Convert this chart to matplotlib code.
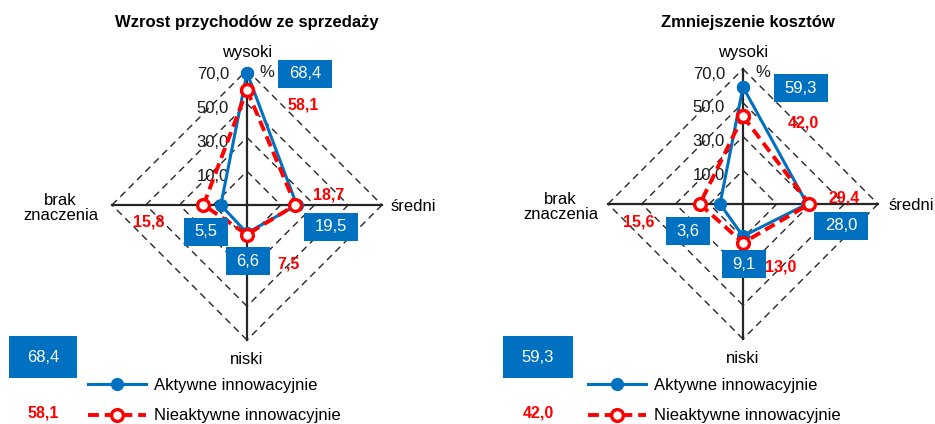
import numpy as np
import matplotlib
matplotlib.use('Agg')
import matplotlib.pyplot as plt
from matplotlib.path import Path

plt.rcParams['font.family'] = ['Liberation Sans', 'DejaVu Sans']
plt.rcParams['font.size'] = 12

categories = ['wysoki', 'średni', 'niski', 'brak\nznaczenia']
series_names = ['Aktywne innowacyjnie', 'Nieaktywne innowacyjnie']
titles = ['Wzrost przychodów ze sprzedaży', 'Zmniejszenie kosztów']

# shares in %, same order as categories
revenue_active = [68.4, 19.5, 6.6, 5.5]
revenue_inactive = [58.1, 18.7, 7.5, 15.8]
costs_active = [59.3, 28.0, 9.1, 3.6]
costs_inactive = [42.0, 29.4, 13.0, 15.6]

r_ticks = [10, 30, 50, 70]
r_min, r_max = -10, 70

BLUE = '#0070C0'
RED = '#FF0000'
GRID = '#262626'
W, H = 935, 424


def fmt(v):
    return f'{v:.1f}'.replace('.', ',')


def label_box(padx, height):
    ''' Rectangle boxstyle with fixed height, sizes in font-size units '''
    def style(x0, y0, width, h, mutation_size):
        px = padx * mutation_size
        hh = height * mutation_size / 2
        cy = y0 + h / 2
        return Path([(x0 - px, cy - hh), (x0 + width + px, cy - hh),
                     (x0 + width + px, cy + hh), (x0 - px, cy + hh),
                     (x0 - px, cy - hh)], closed=True)
    return style


# label offsets in pixels (x right, y up) from each data point
panels = [
    dict(center=(247, 205), title_x=247,
         active=revenue_active, inactive=revenue_inactive,
         active_off=[(58, -1), (34, -22), (1, -28), (-15, -27)],
         inactive_off=[(56, -15), (33, 10), (42, -29), (-55, -17)],
         side_off=(9, -14), legend_x=88, key_x=43),
    dict(center=(743, 204), title_x=748,
         active=costs_active, inactive=costs_inactive,
         active_off=[(58, -1), (34, -22), (1, -28), (-32, -27)],
         inactive_off=[(60, -7), (35, 6), (38, -24), (-61, -18)],
         side_off=(11, -10), legend_x=588, key_x=538),
]

fig = plt.figure(figsize=(W / 100, H / 100), dpi=100)
angles = np.array([0, np.pi / 2, np.pi, 3 * np.pi / 2])
radius = 135

for i, p in enumerate(panels):
    cx, cy = p['center']
    rect = [(cx - radius) / W, (H - cy - radius) / H, 2 * radius / W, 2 * radius / H]
    ax = fig.add_axes(rect, projection='polar')
    ax.set_theta_zero_location('N')
    ax.set_theta_direction(-1)
    ax.set_ylim(r_min, r_max)
    ax.grid(False)
    ax.set_xticks([])
    ax.set_yticks([])
    ax.spines['polar'].set_visible(False)
    ax.patch.set_alpha(0)

    # dashed diamond grid, one edge at a time so dashes start at each corner
    for v in r_ticks:
        for k in range(4):
            a0, a1 = angles[k], angles[(k + 1) % 4]
            ax.plot([a0, a1], [v, v], color=GRID, lw=1.0,
                    ls=(0, (5, 3.5)), zorder=1, clip_on=False)
    for a in angles:
        ax.plot([a, a], [r_min, r_max], color='#262626', lw=1.6, zorder=2, clip_on=False)

    th = np.append(angles, angles[0])
    act = np.append(p['active'], p['active'][0])
    ina = np.append(p['inactive'], p['inactive'][0])
    l1, = ax.plot(th, act, color=BLUE, lw=2.2, marker='o', ms=8.5,
                  mfc=BLUE, mec=BLUE, zorder=4, clip_on=False)
    l2, = ax.plot(th, ina, color=RED, lw=2.8, dashes=(2.8, 1.5), marker='o',
                  ms=8.5, mfc='white', mec=RED, mew=2.4, zorder=5, clip_on=False)

    # radial scale labels along the top spoke
    for v in r_ticks:
        ax.annotate(fmt(v), (0, v), xytext=(-18, -5), textcoords='offset pixels',
                    ha='right', va='center', fontsize=12, color='#1a1a1a')
    ax.annotate('%', (0, r_max), xytext=(20, -3), textcoords='offset pixels',
                ha='center', va='center', fontsize=12, color='#1a1a1a')

    # category names at the spoke ends
    sx, bx = p['side_off']
    ax.annotate(categories[0], (angles[0], r_max), xytext=(0, 17),
                textcoords='offset pixels', ha='center', va='center')
    ax.annotate(categories[1], (angles[1], r_max), xytext=(sx, -2),
                textcoords='offset pixels', ha='left', va='center')
    ax.annotate(categories[2], (angles[2], r_max), xytext=(0, -20),
                textcoords='offset pixels', ha='center', va='center')
    ax.annotate(categories[3], (angles[3], r_max), xytext=(bx, -3),
                textcoords='offset pixels', ha='right', va='center',
                multialignment='center', linespacing=1.05)

    # value labels
    for a, v, off in zip(angles, p['active'], p['active_off']):
        ax.annotate(fmt(v), (a, v), xytext=off, textcoords='offset pixels',
                    ha='center', va='center', color='white', fontsize=12, zorder=6,
                    bbox=dict(boxstyle=label_box(0.65, 1.7), fc=BLUE, ec='none'))
    for a, v, off in zip(angles, p['inactive'], p['inactive_off']):
        ax.annotate(fmt(v), (a, v), xytext=off, textcoords='offset pixels',
                    ha='center', va='center', color=RED, fontsize=11.5,
                    fontweight='bold', zorder=6)

    fig.text(p['title_x'] / W, 1 - 23 / H, titles[i], ha='center', va='center',
             fontsize=12, fontweight='bold')

    ax.legend([l1, l2], series_names, loc='upper left',
              bbox_to_anchor=(p['legend_x'] / W, 1 - 378 / H),
              bbox_transform=fig.transFigure, frameon=False, fontsize=12,
              handlelength=3.5, handletextpad=0.45, labelspacing=0.92,
              borderpad=0, borderaxespad=0)
    fig.text(p['key_x'] / W, 1 - 357 / H, fmt(p['active'][0]), ha='center',
             va='center', color='white', fontsize=12,
             bbox=dict(boxstyle=label_box(1.1, 2.5), fc=BLUE, ec='none'))
    fig.text(p['key_x'] / W, 1 - 413 / H, fmt(p['inactive'][0]), ha='center',
             va='center', color=RED, fontsize=11.5, fontweight='bold')

fig.savefig('out.png', dpi=100)
